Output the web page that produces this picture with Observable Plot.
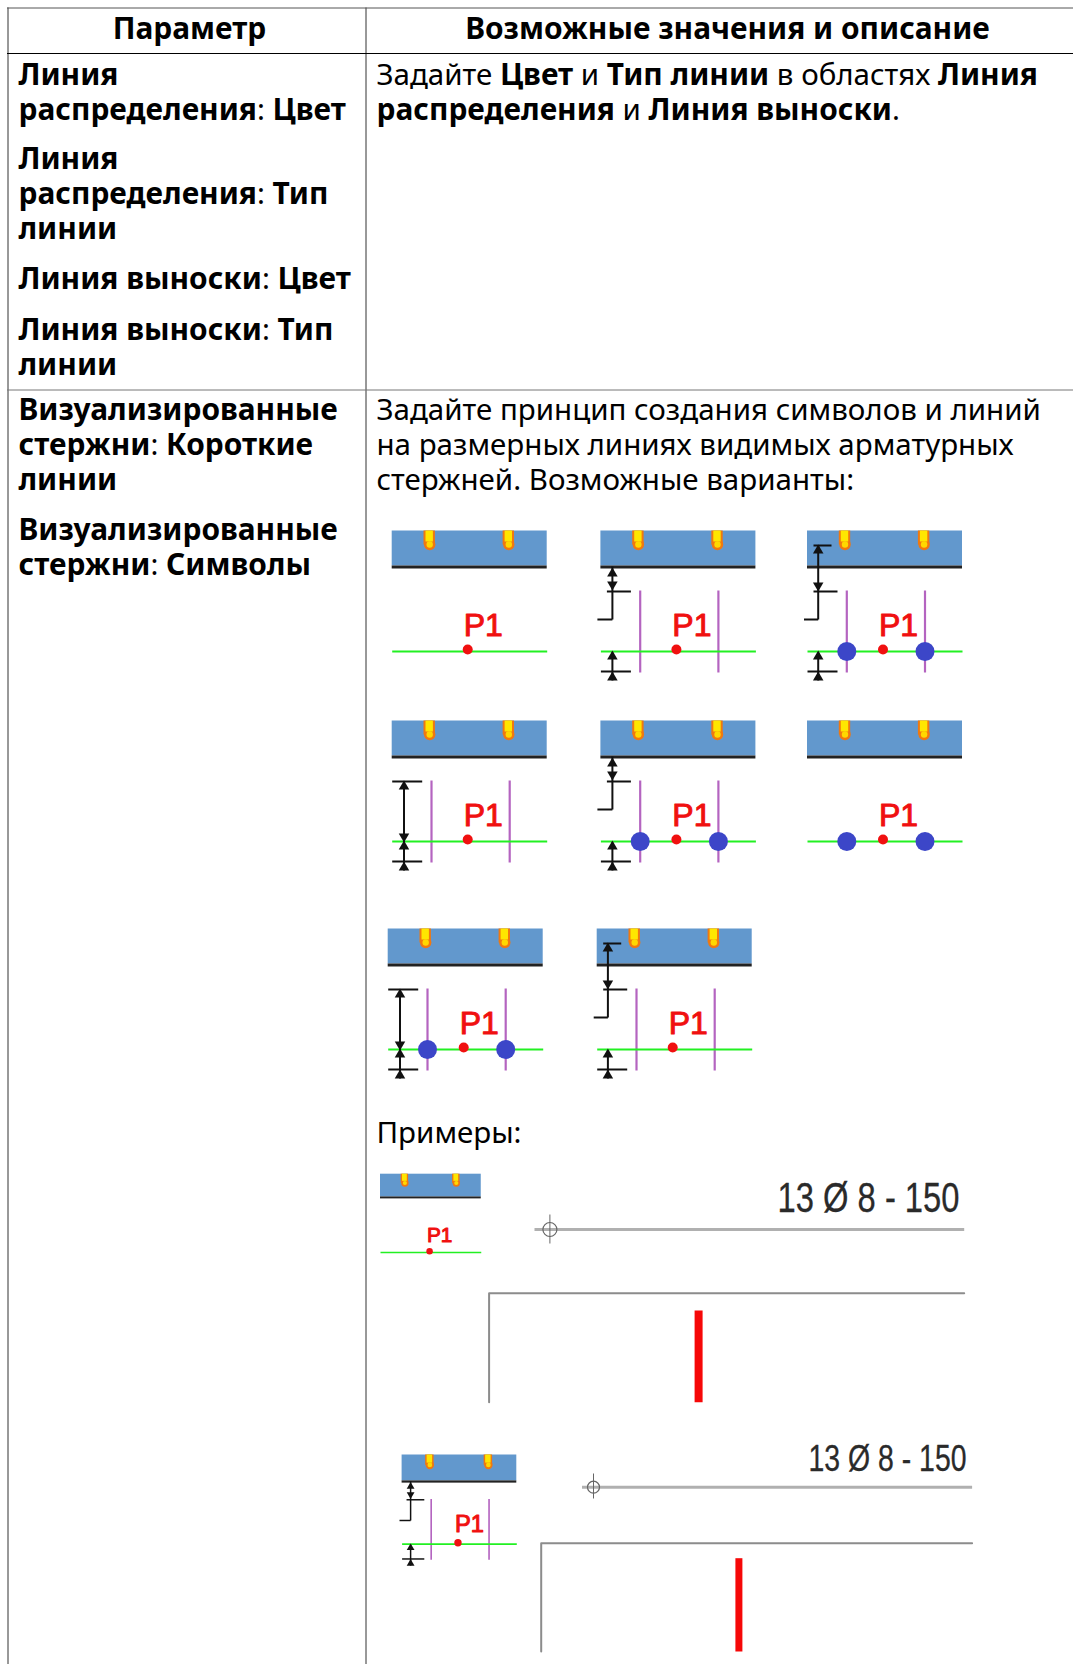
<!DOCTYPE html>
<html lang="ru"><head><meta charset="utf-8">
<script src="https://cdn.jsdelivr.net/npm/d3@7"></script>
<script src="https://cdn.jsdelivr.net/npm/@observablehq/plot@0.6"></script>
<style>html,body{margin:0;padding:0;background:#fff;overflow:hidden}svg{display:block}</style>
</head><body><div id="chart"></div>
<script>
const W = 1073, H = 1664;
const FONT = "Noto Sans";
const FS = 29.5, FB = 29.9;

// Table text: [x, baseline, runs], run = [text, bold]
const cellLines = [
  [18, 84, [["Линия", 1]]],
  [18, 119, [["распределения", 1], [": ", 0], ["Цвет", 1]]],
  [18, 168.5, [["Линия", 1]]],
  [18, 203.5, [["распределения", 1], [": ", 0], ["Тип", 1]]],
  [18, 238.5, [["линии", 1]]],
  [18, 288.5, [["Линия выноски", 1], [": ", 0], ["Цвет", 1]]],
  [18, 339.5, [["Линия выноски", 1], [": ", 0], ["Тип", 1]]],
  [18, 374.5, [["линии", 1]]],
  [18, 419, [["Визуализированные", 1]]],
  [18, 454.5, [["стержни", 1], [": ", 0], ["Короткие", 1]]],
  [18, 489.5, [["линии", 1]]],
  [18, 539.5, [["Визуализированные", 1]]],
  [18, 574.5, [["стержни", 1], [": ", 0], ["Символы", 1]]],
  [376, 84, [["Задайте ", 0], ["Цвет", 1], [" и ", 0], ["Тип линии", 1], [" в областях ", 0], ["Линия", 1]]],
  [376, 119, [["распределения", 1], [" и ", 0], ["Линия выноски", 1], [".", 0]]],
  [376, 419, [["Задайте принцип создания символов и линий", 0]]],
  [376, 454.5, [["на размерных линиях видимых арматурных", 0]]],
  [376, 489.5, [["стержней. Возможные варианты:", 0]]],
  [376, 1142, [["Примеры:", 0]]]
];
const headerLabels = [[189, 38, "Параметр"], [727, 38, "Возможные значения и описание"]];

// Table grid
const gridColumns = [7.5, 365.5];
const gridRows = [[7.5, "#555"], [53, "#000"], [389.5, "#777"]];

// Small section diagrams: [x, y, scale, rods, bigDots, dimension]
const diagrams = [
  [391.7, 530.5, 1, 0, 0, ""],
  [600.4, 530.5, 1, 1, 0, "A"],
  [807, 530.5, 1, 1, 1, "B"],
  [391.7, 720.5, 1, 1, 0, "C"],
  [600.4, 720.5, 1, 1, 1, "A"],
  [807, 720.5, 1, 0, 1, ""],
  [387.7, 928.5, 1, 1, 1, "C"],
  [596.7, 928.5, 1, 1, 0, "B"],
  [380, 1173.7, 0.65, 0, 0, ""],
  [401.6, 1454.5, 0.74, 1, 0, "A"]
];
const barSlots = [37.5, 116.6];
const rodSlots = [39.3, 117.5];
const dimensionLines = {
  A: [[11.5,36,11.5,89],[6,61,30,61],[-3.5,89,11.5,89],[11.5,122,11.5,150],[0,141,30,141]],
  B: [[10.7,15,10.7,89],[6,15,24,15],[6,61,30,61],[-3.5,89,10.7,89],[10.7,122,10.7,150],[0,141,30,141]],
  C: [[11.8,61,11.8,150],[0,61,30,61],[0,141,30,141]]
};
const dimensionArrows = {
  A: [[11.5,43,0],[11.5,54,180],[11.5,126,0],[11.5,147,0]],
  B: [[10.7,20,0],[10.7,55,180],[10.7,126,0],[10.7,147,0]],
  C: [[11.8,66,0],[11.8,116,180],[11.8,126,0],[11.8,147,0]]
};

// Example drawings
const exampleLabels = [[777, 959, 1211, 42, "13 Ø 8 - 150"], [808, 966, 1470.5, 36, "13 Ø 8 - 150"]];
const leaders = [[534, 963.7, 1229, 549.4, 1214, 1243, 7], [581.5, 971.6, 1486.7, 593, 1473, 1498, 6]];
const corners = [[[488.6,1401.7],[488.6,1292.7],[963.7,1292.7]], [[540.7,1651],[540.7,1542.7],[971.6,1542.7]]];
const redBars = [[698.1, 1310, 1401.7, 8], [738.4, 1557.7, 1651, 7]];

// Lay out mixed-weight runs
const ctx = document.createElement("canvas").getContext("2d");
const runsOut = [];
for (const [x0, y, runs] of cellLines) {
  let x = x0;
  for (const [t, b] of runs) {
    ctx.font = `${b ? "bold " : ""}${b ? FB : FS}px "${FONT}"`;
    runsOut.push({x, y, t, b});
    x += ctx.measureText(t).width;
  }
}

// Expand diagrams into mark tables
const blueRects = [], blackRects = [], orange = [], yellow = [], orangeTips = [], yellowTips = [], greens = [],
      p1Dots = [], p1Texts = [], rods = [], bigDots = [], dimSegs = [], arrows = [];
for (const [ox, oy, s, hasRods, hasDots, dim] of diagrams) {
  const X = v => ox + v * s, Y = v => oy + v * s;
  blueRects.push({x1: X(0), x2: X(155), y1: Y(0), y2: Y(35)});
  blackRects.push({x1: X(0), x2: X(155), y1: Y(35), y2: Y(38)});
  greens.push({x1: X(0), x2: X(155), y: Y(120.5), s});
  for (const b of barSlots) {
    orange.push({x1: X(b-5.7), x2: X(b+5.7), y1: Y(0), y2: Y(14)});
    orangeTips.push({x: X(b), y: Y(13.5), r: 5.7*s});
    yellow.push({x1: X(b-3.7), x2: X(b+3.7), y1: Y(0), y2: Y(11)});
    yellowTips.push({x: X(b), y: Y(13.5), r: 3.2*s});
  }
  if (hasRods) for (const r of rodSlots) rods.push({x: X(r), y1: Y(59.5), y2: Y(141.5), s});
  if (hasDots) for (const r of rodSlots) bigDots.push({x: X(r), y: Y(120.5), r: 9.5*s});
  p1Dots.push({x: X(75.5), y: Y(118.5), r: 5*s});
  p1Texts.push({x: X(91), y: Y(104.5), f: 32*s});
  if (dim) {
    for (const [a,b,c,d] of dimensionLines[dim]) dimSegs.push({x1: X(a), y1: Y(b-.5), x2: X(c), y2: Y(d-.5), s});
    for (const [a,b,rot] of dimensionArrows[dim]) arrows.push({x: X(a), y: Y(b-.5), rot, r: 3.9*s});
  }
}
const cornerPts = corners.flatMap((c, i) => c.map(([x, y]) => ({x, y, i})));
const rectOf = opts => Object.assign({x1:"x1", x2:"x2", y1:"y1", y2:"y2"}, opts);

const plot = Plot.plot({
  width: W, height: H, margin: 0,
  style: {background: "#fff", fontFamily: FONT},
  x: {domain: [0, W], range: [0, W], axis: null},
  y: {domain: [0, H], range: [0, H], axis: null},
  r: {type: "identity"},
  marks: [
    // grid
    Plot.ruleX(gridColumns, {x: d => d, y1: 7.5, y2: H, stroke: "#333", strokeWidth: 1}),
    Plot.ruleY(gridRows, {y: d => d[0], x1: 7, x2: W, stroke: d => d[1], strokeWidth: 1}),
    // text
    Plot.text(headerLabels, {x: d => d[0], y: d => d[1], text: d => d[2], fontSize: FB, fontWeight: 700, fontFamily: FONT, textAnchor: "middle", lineAnchor: "bottom", fill: "#000"}),
    Plot.text(runsOut.filter(d => d.b), {x: "x", y: "y", text: "t", fontSize: FB, fontWeight: 700, fontFamily: FONT, textAnchor: "start", lineAnchor: "bottom", fill: "#000"}),
    Plot.text(runsOut.filter(d => !d.b), {x: "x", y: "y", text: "t", fontSize: FS, fontFamily: FONT, textAnchor: "start", lineAnchor: "bottom", fill: "#000"}),
    // section diagrams
    Plot.rect(blueRects, rectOf({fill: "#6298cd"})),
    Plot.rect(blackRects, rectOf({fill: "#222"})),
    Plot.rect(orange, rectOf({fill: "#f07810"})),
    Plot.dot(orangeTips, {x: "x", y: "y", r: "r", fill: "#f07810"}),
    Plot.rect(yellow, rectOf({fill: "#ffe600"})),
    Plot.dot(yellowTips, {x: "x", y: "y", r: "r", fill: "#ffd800"}),
    Plot.link(rods, {x1: "x", x2: "x", y1: "y1", y2: "y2", stroke: "#b464c0", strokeWidth: d => 2.2 * d.s}),
    Plot.link(greens, {x1: "x1", x2: "x2", y1: "y", y2: "y", stroke: "#22f022", strokeWidth: d => 2.2 * d.s}),
    Plot.dot(bigDots, {x: "x", y: "y", r: "r", fill: "#3c46c8"}),
    Plot.dot(p1Dots, {x: "x", y: "y", r: "r", fill: "#f01010"}),
    Plot.text(p1Texts, {x: "x", y: "y", text: () => "P1", fontSize: "f", fontFamily: "Liberation Sans", textAnchor: "middle", lineAnchor: "bottom", fill: "#f01010", stroke: "#f01010", strokeWidth: 1}),
    Plot.link(dimSegs, {x1: "x1", x2: "x2", y1: "y1", y2: "y2", stroke: "#111", strokeWidth: d => 2 * d.s}),
    Plot.dot(arrows, {x: "x", y: "y", r: "r", symbol: "triangle", rotate: "rot", fill: "#111"}),
    // example drawings
    Plot.text(exampleLabels, {x: d => d[0], y: d => d[2], text: d => d[4], fontSize: d => d[3], fontFamily: "Liberation Sans", textAnchor: "start", lineAnchor: "bottom", fill: "#2a2a2a", stroke: "#2a2a2a", strokeWidth: 0.3, className: "lead-label"}),
    Plot.link(leaders, {x1: d => d[0], x2: d => d[1], y1: d => d[2], y2: d => d[2], stroke: "#b0b0b0", strokeWidth: 3}),
    Plot.link(leaders, {x1: d => d[3], x2: d => d[3], y1: d => d[4], y2: d => d[5], stroke: "#666", strokeWidth: 1}),
    Plot.dot(leaders, {x: d => d[3], y: d => d[2], r: d => d[6], stroke: "#666", strokeWidth: 1.2, fill: "none"}),
    Plot.line(cornerPts, {x: "x", y: "y", z: "i", stroke: "#8c8c8c", strokeWidth: 2, curve: "linear"}),
    Plot.link(redBars, {x1: d => d[0], x2: d => d[0], y1: d => d[1], y2: d => d[2], stroke: "#f60808", strokeWidth: d => d[3]})
  ]
});
document.getElementById("chart").append(plot);
// Condensed figure labels: fit each to its measured width
d3.select(plot).selectAll(".lead-label text").each(function(_, i) {
  const t = exampleLabels[i];
  this.setAttribute("textLength", t[1] - t[0]);
  this.setAttribute("lengthAdjust", "spacingAndGlyphs");
});
</script></body></html>
